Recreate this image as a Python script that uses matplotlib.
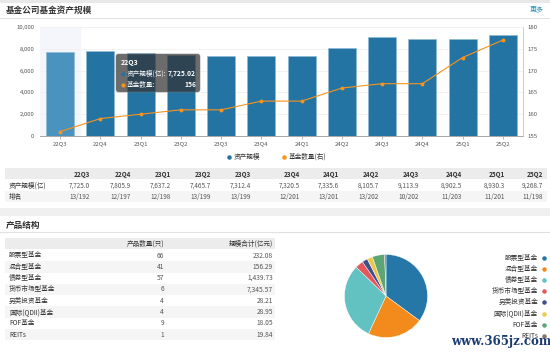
import matplotlib
matplotlib.use("Agg")
import matplotlib.pyplot as plt
from matplotlib.patches import Rectangle, FancyBboxPatch

plt.rcParams['font.family'] = ['Noto Sans CJK SC', 'DejaVu Sans']

quarters = ['22Q3', '22Q4', '23Q1', '23Q2', '23Q3', '23Q4',
            '24Q1', '24Q2', '24Q3', '24Q4', '25Q1', '25Q2']
asset_scale = [7725.0, 7805.9, 7637.2, 7465.7, 7312.4, 7320.5,
               7335.6, 8105.7, 9113.9, 8902.5, 8930.3, 9268.7]
fund_count = [156, 159, 160, 161, 161, 163, 163, 166, 167, 167, 173, 177]
rank = ['13/192', '12/197', '12/198', '13/199', '13/199', '12/201',
        '13/201', '13/202', '10/202', '11/203', '11/201', '11/198']

product_types = ['股票型基金', '混合型基金', '债券型基金', '货币市场型基金',
                 '另类投资基金', '国际(QDII)基金', 'FOF基金', 'REITs']
product_counts = [66, 41, 57, 6, 4, 4, 9, 1]
product_scale = [232.08, 156.29, 1439.73, 7345.57, 28.21, 28.95, 18.05, 19.84]

pie_colors = ['#2577a7', '#f38b1c', '#62c1c1', '#e2585b',
              '#3f4e8e', '#ecc94b', '#5ea576', '#8a7566']
bar_color = '#2373a3'
line_color = '#f7941d'
txt = '#333333'
W, H = 550, 352

fig = plt.figure(figsize=(W / 100, H / 100), dpi=100)
fig.patch.set_facecolor('white')

bg = fig.add_axes([0, 0, 1, 1], zorder=0)
bg.set_xlim(0, W)
bg.set_ylim(H, 0)
bg.axis('off')

# frame pieces
bg.add_patch(Rectangle((0, 0), W, 2.5, color='#e8e8e8', lw=0))
bg.plot([0, W], [18, 18], color='#e2e2e2', lw=0.8)
bg.text(6, 10, '基金公司基金资产规模', fontsize=6.2, fontweight='bold', color=txt, va='center')
bg.text(544, 9, '更多', fontsize=5, color='#2a8fb5', va='center', ha='right')

# ---- bar/line chart ----
x0, x1, y0, y1 = 40, 523, 27, 136
ax = fig.add_axes([x0 / W, 1 - y1 / H, (x1 - x0) / W, (y1 - y0) / H], zorder=1)
ax.patch.set_alpha(0)
idx = list(range(len(quarters)))
ax.axvspan(-0.5, 0.5, color='#f4f6fc', zorder=0)
cols = [bar_color] * len(quarters)
cols[0] = '#4a93bf'
ax.bar(idx, asset_scale, width=0.7, color=cols, edgecolor='#8fb8d4', lw=0.5, zorder=2)
ax.set_xlim(-0.5, len(quarters) - 0.5)
ax.set_ylim(0, 10000)
ax.set_yticks(range(0, 10001, 2000))
ax.set_yticklabels([f'{v:,}' for v in range(0, 10001, 2000)])
ax.grid(axis='y', color='#f0f0f0', lw=0.6, zorder=0)
ax.set_axisbelow(True)
ax.set_xticks(idx)
ax.set_xticklabels(quarters)
ax.tick_params(axis='y', length=0, labelsize=4.3, colors='#555555', pad=4)
ax.tick_params(axis='x', length=2, width=0.5, color='#999999', labelsize=4.3,
               labelcolor='#555555', pad=2)
for s in ['top', 'left', 'right']:
    ax.spines[s].set_visible(False)
ax.spines['bottom'].set_color('#999999')
ax.spines['bottom'].set_linewidth(0.6)

ax2 = ax.twinx()
ax2.set_zorder(2)
ax2.plot(idx, fund_count, color=line_color, lw=0.8, marker='o', ms=1.8,
         mfc=line_color, mec=line_color)
ax2.set_ylim(155, 180)
ax2.set_yticks(range(155, 181, 5))
ax2.tick_params(axis='y', length=0, labelsize=4.3, colors='#555555', pad=3)
for s in ['top', 'left', 'bottom']:
    ax2.spines[s].set_visible(False)
ax2.spines['right'].set_color('#bbbbbb')
ax2.spines['right'].set_linewidth(0.5)

# legend
bg.scatter([229], [157], s=5, color=bar_color)
bg.text(234, 157, '资产规模', fontsize=4.8, color=txt, va='center')
bg.scatter([284], [157], s=5, color=line_color)
bg.text(289, 157, '基金数量(右)', fontsize=4.8, color=txt, va='center')

# ---- quarter table ----
col_right = [90, 131, 171, 211, 251, 300, 339, 379, 419, 462, 505, 543]
bg.add_patch(Rectangle((5, 168), 542, 11, color='#ececec', lw=0))
bg.add_patch(Rectangle((5, 191), 542, 11, color='#f5f5f5', lw=0))
for q, xr, v, r in zip(quarters, col_right, asset_scale, rank):
    bg.text(xr, 174, q, fontsize=4.6, fontweight='bold', color=txt, ha='right', va='center')
    bg.text(xr, 186, f'{v:,.1f}', fontsize=4.6, color='#555555', ha='right', va='center')
    bg.text(xr, 197, r, fontsize=4.6, color='#555555', ha='right', va='center')
bg.text(9, 186, '资产规模(亿)', fontsize=4.8, color=txt, va='center')
bg.text(9, 197, '排名', fontsize=4.8, color=txt, va='center')

bg.add_patch(Rectangle((0, 208), W, 8, color='#f0f0f0', lw=0))

# ---- product table ----
bg.text(6, 225, '产品结构', fontsize=6.2, fontweight='bold', color=txt, va='center')
bg.plot([0, W], [232, 232], color='#e2e2e2', lw=0.8)
bg.add_patch(Rectangle((5, 238), 270, 11, color='#ececec', lw=0))
bg.text(164, 244, '产品数量(只)', fontsize=4.8, color=txt, ha='right', va='center')
bg.text(273, 244, '规模合计(亿元)', fontsize=4.8, color=txt, ha='right', va='center')
for i, (name, c, s) in enumerate(zip(product_types, product_counts, product_scale)):
    yy = 255.5 + i * 11.3
    if i % 2 == 1:
        bg.add_patch(Rectangle((5, yy - 5.6), 270, 11.3, color='#f5f5f5', lw=0))
    bg.text(9, yy, name, fontsize=4.8, color=txt, va='center')
    bg.text(164, yy, f'{c}', fontsize=4.8, color='#555555', ha='right', va='center')
    bg.text(273, yy, f'{s:,.2f}', fontsize=4.8, color='#555555', ha='right', va='center')

# ---- pie ----
cx, cy, rad = 386, 296, 41.5
pax = fig.add_axes([(cx - rad) / W, 1 - (cy + rad) / H, 2 * rad / W, 2 * rad / H], zorder=1)
pax.pie(product_counts, colors=pie_colors, startangle=90, counterclock=False,
        wedgeprops=dict(edgecolor='white', linewidth=0.3))
pax.set_aspect('auto')
pax.set_xlim(-1.0, 1.0)
pax.set_ylim(-1.0, 1.0)
for i, (name, c) in enumerate(zip(product_types, pie_colors)):
    yy = 258 + i * 11.1
    bg.text(538, yy, name, fontsize=4.8, color=txt, ha='right', va='center')
    bg.scatter([544], [yy], s=5, color=c)

# ---- overlay: tooltip + watermark ----
top = fig.add_axes([0, 0, 1, 1], zorder=10)
top.set_xlim(0, W)
top.set_ylim(H, 0)
top.axis('off')
top.patch.set_alpha(0)
top.add_patch(FancyBboxPatch((116, 54), 84, 38, boxstyle='round,pad=0,rounding_size=2.5',
                             fc='#333333', ec='#777777', lw=0.5, alpha=0.72))
top.text(121, 63, quarters[0], fontsize=5, fontweight='bold', color='white', va='center')
top.scatter([123], [73.5], s=4, color=bar_color, zorder=11)
top.text(127, 73.5, '资产规模(亿):', fontsize=4.8, color='white', va='center')
top.text(196, 73.5, '7,725.02', fontsize=4.8, fontweight='bold', color='white', ha='right', va='center')
top.scatter([123], [84.5], s=4, color=line_color, zorder=11)
top.text(127, 84.5, '基金数量:', fontsize=4.8, color='white', va='center')
top.text(196, 84.5, f'{fund_count[0]}', fontsize=4.8, fontweight='bold', color='white', ha='right', va='center')

top.text(501, 341, 'www.365jz.com', family='DejaVu Serif', fontsize=8.5, fontweight='bold',
         color='#1b3b73', ha='center', va='center')

fig.savefig('out.png', dpi=100)
